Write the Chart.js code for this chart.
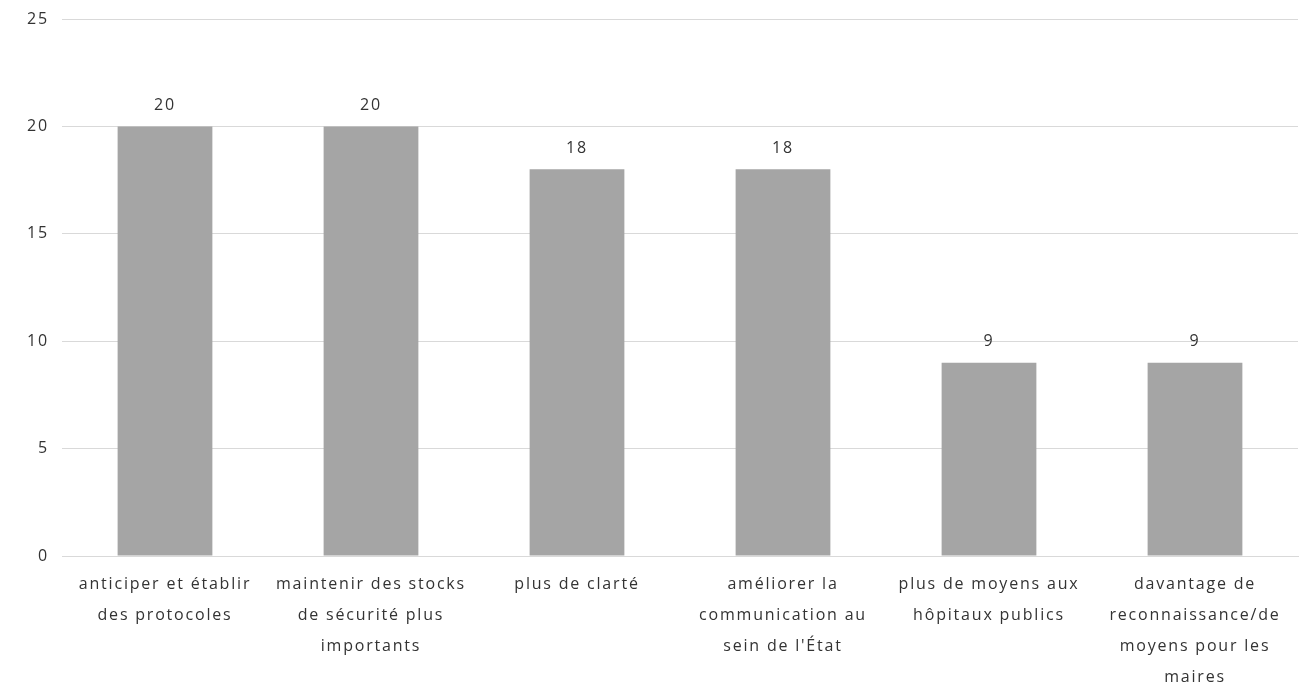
<!DOCTYPE html>
<html>
<head>
<meta charset="utf-8">
<script src="https://cdn.jsdelivr.net/npm/chart.js"></script>
<style>
  html, body { margin: 0; padding: 0; background: #fff; }
  #wrap { width: 1302px; height: 684px; }
</style>
</head>
<body>
<div id="wrap"><canvas id="chart" width="1302" height="684"></canvas></div>
<script>
const categories = [
  ["anticiper et établir", "des protocoles"],
  ["maintenir des stocks", "de sécurité plus", "importants"],
  ["plus de clarté"],
  ["améliorer la", "communication au", "sein de l'État"],
  ["plus de moyens aux", "hôpitaux publics"],
  ["davantage de", "reconnaissance/de", "moyens pour les", "maires"]
];
const counts = [20, 20, 18, 18, 9, 9];
const yTicks = [0, 5, 10, 15, 20, 25];

const textColor = "#333333";
const fontFamily = "'Open Sans', sans-serif";

// the reference text is set wide, so space the letters a little
const spacing = {
  id: "spacing",
  beforeDraw(chart) { chart.ctx.letterSpacing = "1.8px"; }
};

// value labels above each bar
const valueLabels = {
  id: "valueLabels",
  afterDatasetsDraw(chart) {
    const { ctx } = chart;
    const meta = chart.getDatasetMeta(0);
    ctx.save();
    ctx.font = "16px " + fontFamily;
    ctx.fillStyle = textColor;
    ctx.textAlign = "center";
    ctx.textBaseline = "middle";
    meta.data.forEach((bar, i) => {
      ctx.fillText(counts[i], bar.x, bar.y - 21);
    });
    ctx.restore();
  }
};

new Chart(document.getElementById("chart"), {
  type: "bar",
  data: {
    labels: categories,
    datasets: [{
      data: counts,
      backgroundColor: "#A5A5A5",
      barPercentage: 0.46,
      categoryPercentage: 1
    }]
  },
  options: {
    responsive: false,
    animation: false,
    layout: { padding: { top: 19, right: 4, left: 0, bottom: 0 } },
    plugins: { legend: { display: false }, tooltip: { enabled: false } },
    scales: {
      x: {
        afterFit(axis) { axis.height = 128; },
        grid: { display: false, drawTicks: false },
        border: { color: "#D9D9D9", width: 1 },
        ticks: {
          color: textColor,
          font: { family: fontFamily, size: 16, lineHeight: 1.94 },
          maxRotation: 0,
          autoSkip: false,
          padding: 13
        }
      },
      y: {
        min: 0,
        max: 25,
        afterBuildTicks(axis) { axis.ticks = yTicks.map(v => ({ value: v })); },
        afterFit(axis) {
          axis.width = 62;
          axis.paddingTop = 0;
          axis.paddingBottom = 0;
        },
        grid: { color: "#D9D9D9", drawTicks: false },
        border: { display: false },
        ticks: {
          color: textColor,
          font: { family: fontFamily, size: 16 },
          padding: 13
        }
      }
    }
  },
  plugins: [spacing, valueLabels]
});
</script>
</body>
</html>
